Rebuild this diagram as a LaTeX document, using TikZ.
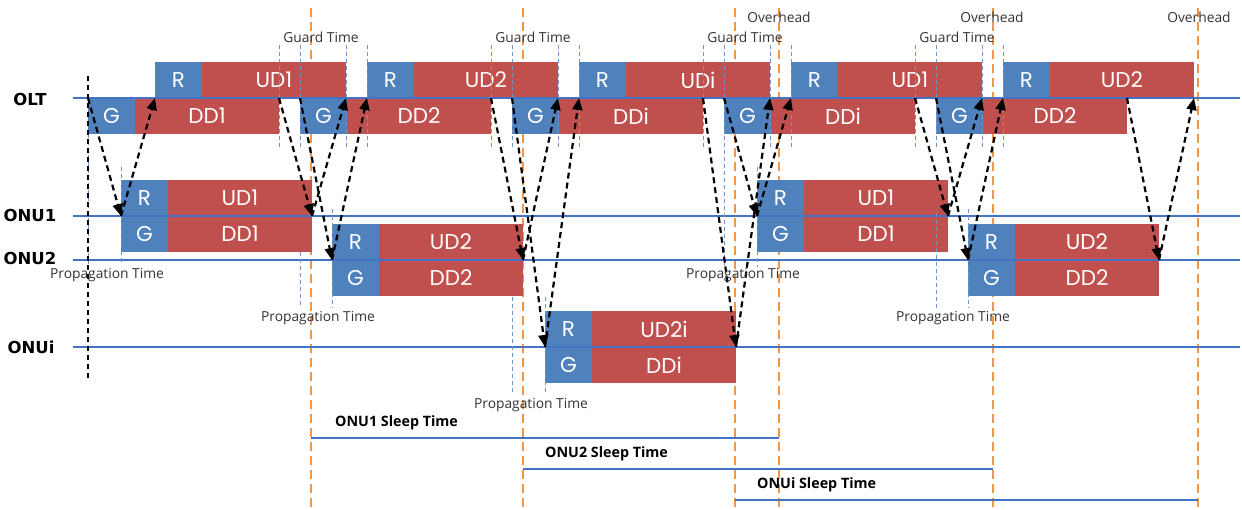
\documentclass[tikz,border=0pt]{standalone}
\usepackage{fontspec}
\setmainfont{Open Sans}
\newfontfamily\boxfnt{Poppins}
\newfontfamily\rowfnt{DejaVu Sans}
\usetikzlibrary{arrows.meta}
\definecolor{bblue}{RGB}{79,129,189}
\definecolor{bred}{RGB}{192,80,77}
\definecolor{lblue}{RGB}{68,114,196}
\definecolor{orng}{RGB}{240,150,70}
\definecolor{pblue}{RGB}{110,150,200}
\newcommand\blkpair[5]{%
  \node[smallblk] (#1s) at (#2,#3) {#4};
  \node[bigblk] (#1b) at (#1s.north east) {#5};}
\tikzset{
 smallblk/.style={fill=bblue, minimum width=47pt, minimum height=36pt, inner sep=0pt, outer sep=0pt, anchor=north west, text=white, font=\boxfnt\fontsize{21.5}{21.5}\selectfont},
 bigblk/.style={smallblk, fill=bred, minimum width=144pt},
 hline/.style={draw=lblue, line width=1.2pt},
 orangeline/.style={draw=orng, line width=2pt, dash pattern=on 9pt off 5pt},
 thinline/.style={draw=pblue, line width=0.8pt, dash pattern=on 4pt off 3pt},
 arr/.style={draw=black, line width=2.2pt, dash pattern=on 6pt off 4pt, -{Triangle[length=12pt,width=10pt]}},
 smalltxt/.style={font=\fontsize{13.8}{13.8}\selectfont, text=black!80, inner sep=0pt},
 rowlbl/.style={font=\rowfnt\bfseries\fontsize{16.5}{16.5}\selectfont, inner sep=0pt},
 sleeplbl/.style={font=\bfseries\fontsize{14.3}{14.3}\selectfont, anchor=west, inner sep=0pt},
 sleepline/.style={draw=lblue, line width=1.4pt},
}
\begin{document}
\begin{tikzpicture}[x=1pt,y=-1pt]
\useasboundingbox (0,0) rectangle (1242,509);
% orange overhead lines
\coordinate (ov1) at (311,8);
\coordinate (ov2) at (523,8);
\coordinate (ov3) at (735,8);
\coordinate (ov4) at (779,8);
\coordinate (ov5) at (993,8);
\coordinate (ov6) at (1198,8);
\foreach \c in {ov1,ov2,ov3,ov4,ov5,ov6}
  \draw[orangeline] (\c) -- (\c |- 0,509);
% OLT blocks
\blkpair{g1}{88}{98}{G}{DD1}
\blkpair{r1}{155}{62}{R}{UD1}
\blkpair{g2}{300}{98}{G}{DD2}
\blkpair{r2}{367}{62}{R}{UD2}
\blkpair{g3}{512}{98}{G}{DDi}
\blkpair{r3}{579}{62}{R}{UDi}
\blkpair{g4}{724}{98}{G}{DDi}
\blkpair{r4}{791}{62}{R}{UD1}
\blkpair{g5}{936}{98}{G}{DD2}
\blkpair{r5}{1003}{62}{R}{UD2}
% ONU blocks
\blkpair{uar}{121}{180}{R}{UD1}
\blkpair{uag}{121}{216}{G}{DD1}
\blkpair{ubr}{332}{224}{R}{UD2}
\blkpair{ubg}{332}{260}{G}{DD2}
\blkpair{uir}{545}{311}{R}{UD2i}
\blkpair{uig}{545}{347}{G}{DDi}
\blkpair{ucr}{757}{180}{R}{UD1}
\blkpair{ucg}{757}{216}{G}{DD1}
\blkpair{udr}{968}{224}{R}{UD2}
\blkpair{udg}{968}{260}{G}{DD2}
% horizontal time lines
\draw[hline] (73,98) -- (1240,98);
\draw[hline] (73,216) -- (1240,216);
\draw[hline] (73,260) -- (1240,260);
\draw[hline] (73,347) -- (1240,347);
% guard time lines
\foreach \a/\b/\c/\d in {g1/g2/r1/r2, g2/g3/r2/r3, g3/g4/r3/r4, g4/g5/r4/r5}{
  \draw[thinline] (\a b.north east |- 0,45) -- (\a b.north east |- 0,150);
  \draw[thinline] (\b s.north west |- 0,45) -- (\b s.north west |- 0,150);
  \draw[thinline] (\c b.south east |- 0,45) -- (\c b.south east |- 0,150);
  \draw[thinline] (\d s.south west |- 0,45) -- (\d s.south west |- 0,150);
}
% propagation time lines
\draw[thinline] (g1s.south west) -- (g1s.south west |- 0,265);
\draw[thinline] (uars.north west |- 0,167) -- (uars.north west |- 0,265);
\draw[thinline] (g2s.south west |- 0,252) -- (g2s.south west |- 0,308);
\draw[thinline] (ubrs.north west |- 0,209) -- (ubrs.north west |- 0,308);
\draw[thinline] (g3s.south west |- 0,297) -- (g3s.south west |- 0,395);
\draw[thinline] (uirs.north west |- 0,297) -- (uirs.north west |- 0,395);
\draw[thinline] (g4s.south west |- 0,150) -- (g4s.south west |- 0,267);
\draw[thinline] (ucrs.north west |- 0,167) -- (ucrs.north west |- 0,267);
\draw[thinline] (g5s.south west |- 0,213) -- (g5s.south west |- 0,308);
\draw[thinline] (udrs.north west |- 0,209) -- (udrs.north west |- 0,308);
% black dashed reference line
\draw[black, line width=1.1pt, dash pattern=on 5pt off 4pt] (g1s.north west |- 0,76) -- (g1s.north west |- 0,378);
% signalling arrows
\draw[arr] (g1s.north west) -- (uars.south west);
\draw[arr] (uars.south west) -- (r1s.south west);
\draw[arr] (g1b.north east) -- (uarb.south east);
\draw[arr] (uarb.south east) -- (r1b.south east);
\draw[arr] (g2s.north west) -- (ubrs.south west);
\draw[arr] (ubrs.south west) -- (r2s.south west);
\draw[arr] (g2b.north east) -- (ubrb.south east);
\draw[arr] (ubrb.south east) -- (r2b.south east);
\draw[arr] (g3s.north west) -- (uirs.south west);
\draw[arr] (uirs.south west) -- (r3s.south west);
\draw[arr] (g3b.north east) -- (uirb.south east);
\draw[arr] (uirb.south east) -- (r3b.south east);
\draw[arr] (g4s.north west) -- (ucrs.south west);
\draw[arr] (ucrs.south west) -- (r4s.south west);
\draw[arr] (g4b.north east) -- (ucrb.south east);
\draw[arr] (ucrb.south east) -- (r4b.south east);
\draw[arr] (g5s.north west) -- (udrs.south west);
\draw[arr] (udrs.south west) -- (r5s.south west);
\draw[arr] (g5b.north east) -- (udrb.south east);
\draw[arr] (udrb.south east) -- (r5b.south east);
% row labels
\node[rowlbl] (lolt) at (30,99) {OLT};
\node[rowlbl] (lonu1) at (30,215) {ONU1};
\node[rowlbl] (lonu2) at (30,258) {ONU2};
\node[rowlbl] (lonui) at (31,347) {ONUi};
% small labels
\node[smalltxt] (gt1) at (321,37) {Guard Time};
\node[smalltxt] (gt2) at (533,37) {Guard Time};
\node[smalltxt] (gt3) at (745,37) {Guard Time};
\node[smalltxt] (gt4) at (957,37) {Guard Time};
\node[smalltxt] (oh1) at (779,17) {Overhead};
\node[smalltxt] (oh2) at (992,17) {Overhead};
\node[smalltxt] (oh3) at (1199,17) {Overhead};
\node[smalltxt] (pt1) at (107,275) {Propagation Time};
\node[smalltxt] (pt2) at (318,318) {Propagation Time};
\node[smalltxt] (pt3) at (531,405) {Propagation Time};
\node[smalltxt] (pt4) at (743,275) {Propagation Time};
\node[smalltxt] (pt5) at (953,318) {Propagation Time};
% sleep times
\node[sleeplbl] (sl1) at (335,423) {ONU1 Sleep Time};
\node[sleeplbl] (sl2) at (545,454) {ONU2 Sleep Time};
\node[sleeplbl] (sl3) at (757,485) {ONUi Sleep Time};
\draw[sleepline] (ov1 |- 0,438) -- (ov4 |- 0,438);
\draw[sleepline] (ov2 |- 0,469) -- (ov5 |- 0,469);
\draw[sleepline] (ov3 |- 0,500) -- (ov6 |- 0,500);
\end{tikzpicture}
\end{document}
